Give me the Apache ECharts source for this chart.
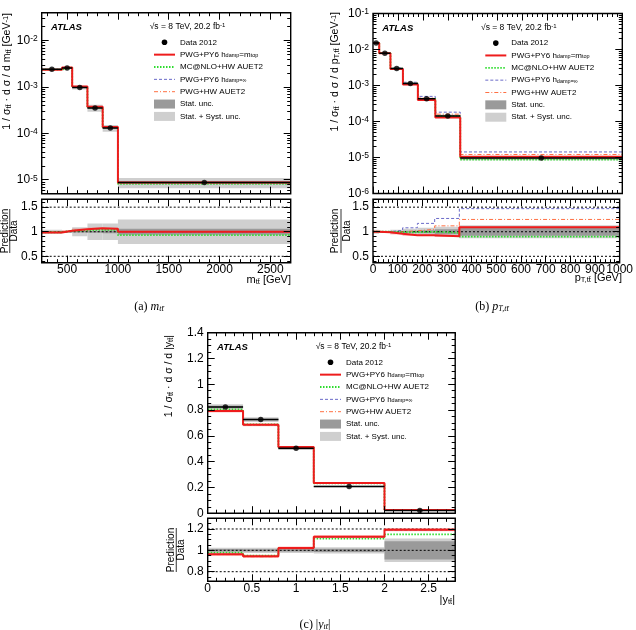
<!DOCTYPE html>
<html><head><meta charset="utf-8">
<script src="https://cdn.jsdelivr.net/npm/echarts@6/dist/echarts.min.js"></script>
<style>html,body{margin:0;padding:0;background:#fff}#c{width:636px;height:630px}</style>
</head><body><div id="c"></div>
<script>
// ---------------- DATA ----------------
// (a) m_tt [GeV]
const mttEdges = [250, 450, 550, 700, 850, 1000, 2700];
const mttData = [2.40e-3, 2.57e-3, 9.7e-4, 3.52e-4, 1.30e-4, 8.75e-6];
const mttStatUnc = [0.01, 0.01, 0.015, 0.02, 0.03, 0.06];
const mttTotUnc = [0.04, 0.02, 0.09, 0.17, 0.17, 0.25];
const mttRatioPwgPy6 = [0.985, 1.02, 1.05, 1.07, 1.06, 1.0];
const mttRatioMcnlo = [0.99, 1.02, 1.03, 1.04, 1.04, 0.93];
const mttRatioHdampInf = [0.985, 1.02, 1.04, 1.06, 1.05, 0.99];
const mttRatioPwgHw = [0.99, 1.02, 1.04, 1.05, 1.05, 1.0];
// (b) pT,tt [GeV]
const pttEdges = [0, 25, 70, 120, 180, 250, 350, 1000];
const pttData = [1.52e-2, 7.9e-3, 2.97e-3, 1.14e-3, 4.26e-4, 1.43e-4, 9.7e-6];
const pttStatUnc = [0.01, 0.01, 0.015, 0.02, 0.03, 0.05, 0.08];
const pttTotUnc = [0.04, 0.02, 0.04, 0.06, 0.08, 0.10, 0.13];
const pttRatioPwgPy6 = [1.0, 0.99, 0.96, 0.93, 0.93, 0.91, 1.09];
const pttRatioMcnlo = [1.0, 1.0, 0.99, 0.99, 1.0, 0.98, 0.90];
const pttRatioHdampInf = [1.0, 1.0, 1.03, 1.08, 1.17, 1.27, 1.47];
const pttRatioPwgHw = [1.0, 1.0, 1.0, 1.02, 1.05, 1.12, 1.25];
// (c) |y_tt|
const yttEdges = [0, 0.4, 0.8, 1.2, 2.0, 2.8];
const yttData = [0.824, 0.726, 0.503, 0.208, 0.021];
const yttStatUnc = [0.012, 0.01, 0.012, 0.015, 0.085];
const yttTotUnc = [0.025, 0.025, 0.025, 0.03, 0.11];
const yttRatioPwgPy6 = [0.963, 0.944, 1.022, 1.128, 1.193];
const yttRatioMcnlo = [0.978, 0.95, 1.02, 1.11, 1.15];
const yttRatioHdampInf = [0.965, 0.945, 1.02, 1.125, 1.19];
const yttRatioPwgHw = [0.96, 0.94, 1.02, 1.125, 1.19];

// tick labels
const mttTicks = [500, 1000, 1500, 2000, 2500];
const pttTicks = [0, 100, 200, 300, 400, 500, 600, 700, 800, 900, 1000];
const yttTicks = [0, 0.5, 1, 1.5, 2, 2.5];
const logTicksA = [1e-5, 1e-4, 1e-3, 1e-2];
const logTicksB = [1e-6, 1e-5, 1e-4, 1e-3, 1e-2, 1e-1];
const yttMainTicks = [0, 0.2, 0.4, 0.6, 0.8, 1, 1.2, 1.4];
const ratioTicksAB = [0.5, 1, 1.5];
const ratioTicksC = [0.8, 1, 1.2];

const legendLabels = ['Data 2012', 'PWG+PY6 h{sub|damp}=m{sub|top}', 'MC@NLO+HW AUET2',
  'PWG+PY6 h{sub|damp=∞}', 'PWG+HW AUET2', 'Stat. unc.', 'Stat. + Syst. unc.'];

// ---------------- STYLE ----------------
const FONT = "'Liberation Sans', Arial, Helvetica, sans-serif";
const SERIF = "'Liberation Serif', 'Times New Roman', serif";
const C = {red:'#ee1c1c', green:'#2ddc2d', blue:'#6a6ac8', orange:'#ff7043',
  dark:'#9a9a9a', light:'#cfcfcf', pink:'rgba(255,90,90,0.35)'};
const predStyles = [
  {color:C.red, width:2, type:'solid'},
  {color:C.green, width:1.8, type:[1.5,1.5]},
  {color:C.blue, width:1, type:[3,2]},
  {color:C.orange, width:1, type:[4,2,1,2]}
];

function range(a, b, step) { const o = []; for (let k = 0; a + k*step <= b + 1e-9; k++) o.push(+((a + k*step).toFixed(6))); return o; }
function minorOf(all, major) { return all.filter(v => !major.some(m => Math.abs(m - v) < 1e-9)); }
function logMinor(lo, hi) { const o = []; for (let e = Math.floor(Math.log10(lo)); e <= Math.ceil(Math.log10(hi)); e++) for (let k = 2; k <= 9; k++) { const v = k * Math.pow(10, e); if (v >= lo && v <= hi) o.push(v); } return o; }

const supRich = {sup:{fontSize:8.5, fontFamily:FONT, color:'#000', verticalAlign:'top', lineHeight:9, padding:[0,0,6,0]}};
function logFmt(v) { const e = Math.round(Math.log10(v)); return '10{sup|' + e + '}'; }
function linFmt(v) { return String(Math.round(v * 1000) / 1000); }

const panels = [
  {edges:mttEdges, data:mttData, stat:mttStatUnc, tot:mttTotUnc,
   ratios:[mttRatioPwgPy6, mttRatioMcnlo, mttRatioHdampInf, mttRatioPwgHw],
   main:{left:41.7, top:12.7, width:249, height:181}, rat:{left:41.7, top:199.3, width:249, height:63.4},
   x:{min:250, max:2700, major:mttTicks, minor:minorOf(range(300, 2700, 100), mttTicks), fmt:linFmt},
   y:{log:true, min:5e-6, max:0.04, major:logTicksA, minor:logMinor(5e-6, 0.04), fmt:logFmt},
   r:{min:0.37, max:1.66, major:ratioTicksAB, minor:minorOf(range(0.4, 1.6, 0.1), ratioTicksAB), fmt:linFmt},
   refLines:[0.5, 1, 1.5]},
  {edges:pttEdges, data:pttData, stat:pttStatUnc, tot:pttTotUnc,
   ratios:[pttRatioPwgPy6, pttRatioMcnlo, pttRatioHdampInf, pttRatioPwgHw],
   main:{left:373, top:13.5, width:249.3, height:180}, rat:{left:373, top:199.3, width:249.3, height:63.4},
   x:{min:0, max:1000, major:pttTicks, minor:minorOf(range(0, 1000, 20), pttTicks), fmt:linFmt},
   y:{log:true, min:1e-6, max:0.1, major:logTicksB, minor:logMinor(1e-6, 0.1), fmt:logFmt},
   r:{min:0.37, max:1.66, major:ratioTicksAB, minor:minorOf(range(0.4, 1.6, 0.1), ratioTicksAB), fmt:linFmt},
   refLines:[0.5, 1, 1.5]},
  {edges:yttEdges, data:yttData, stat:yttStatUnc, tot:yttTotUnc,
   ratios:[yttRatioPwgPy6, yttRatioMcnlo, yttRatioHdampInf, yttRatioPwgHw],
   main:{left:207.7, top:332.7, width:247.5, height:180.5}, rat:{left:207.7, top:518.3, width:247.5, height:63},
   x:{min:0, max:2.8, major:yttTicks, minor:minorOf(range(0, 2.8, 0.1), yttTicks), fmt:linFmt},
   y:{log:false, min:0, max:1.4, major:yttMainTicks, minor:minorOf(range(0, 1.4, 0.05), yttMainTicks), fmt:linFmt},
   r:{min:0.71, max:1.3, major:ratioTicksC, minor:minorOf(range(0.75, 1.3, 0.05), ratioTicksC), fmt:linFmt},
   refLines:[0.8, 1, 1.2]}
];

// ---------------- BUILD ----------------
const grids = [], xAxes = [], yAxes = [], series = [], graphics = [];

function axis(grid, pos, cfg, ticks, len, showLabels, isX) {
  const a = {gridIndex:grid, type:cfg.log ? 'log' : 'value', position:pos, min:cfg.min, max:cfg.max, z:12,
    axisLine:{show:false, onZero:false}, splitLine:{show:false}, minorTick:{show:false}, silent:true,
    axisTick:{show:true, inside:true, length:len, customValues:ticks, lineStyle:{color:'#000', width:1}},
    axisLabel:{show:false}};
  if (cfg.log) a.logBase = 10;
  if (showLabels) a.axisLabel = {show:true, customValues:cfg.major, formatter:cfg.fmt, fontFamily:FONT,
    fontSize:12, color:'#000', margin:isX ? 1 : 4, showMinLabel:true, showMaxLabel:true, rich:supRich};
  return a;
}
function addGrid(rect, xCfg, yCfg, xLabels) {
  const g = grids.length;
  grids.push({left:rect.left, top:rect.top, width:rect.width, height:rect.height, show:true,
    borderColor:'#000', borderWidth:1.4, backgroundColor:'transparent', z:11, containLabel:false});
  const xi = xAxes.length;
  xAxes.push(axis(g, 'bottom', xCfg, xCfg.major, 7, xLabels, true));
  xAxes.push(axis(g, 'bottom', xCfg, xCfg.minor, 3.5, false, true));
  xAxes.push(axis(g, 'top', xCfg, xCfg.major, 7, false, true));
  xAxes.push(axis(g, 'top', xCfg, xCfg.minor, 3.5, false, true));
  const yi = yAxes.length;
  yAxes.push(axis(g, 'left', yCfg, yCfg.major, 7, true, false));
  yAxes.push(axis(g, 'left', yCfg, yCfg.minor, 3.5, false, false));
  yAxes.push(axis(g, 'right', yCfg, yCfg.major, 7, false, false));
  yAxes.push(axis(g, 'right', yCfg, yCfg.minor, 3.5, false, false));
  return [xi, yi];
}
function bandSeries(xi, yi, data, color, z) {
  return {type:'custom', xAxisIndex:xi, yAxisIndex:yi, data, z, clip:true, silent:true, encode:{x:[0,1], y:[2,3]},
    renderItem:(p, api) => { const a = api.coord([api.value(0), api.value(3)]); const b = api.coord([api.value(1), api.value(2)]);
      return {type:'rect', shape:{x:a[0], y:a[1], width:b[0]-a[0], height:b[1]-a[1]}, style:{fill:color}}; }};
}
function hLineSeries(xi, yi, data, stroke, width, dash, z) {
  return {type:'custom', xAxisIndex:xi, yAxisIndex:yi, data, z, clip:true, silent:true, encode:{x:[0,1], y:2},
    renderItem:(p, api) => { const a = api.coord([api.value(0), api.value(2)]); const b = api.coord([api.value(1), api.value(2)]);
      return {type:'line', shape:{x1:a[0], y1:a[1], x2:b[0], y2:b[1]}, style:{stroke, lineWidth:width, lineDash:dash}}; }};
}
function stepSeries(xi, yi, edges, vals, st, z) {
  const d = vals.map((v, i) => [edges[i], v]); d.push([edges[edges.length-1], vals[vals.length-1]]);
  return {type:'line', xAxisIndex:xi, yAxisIndex:yi, data:d, step:'end', symbol:'none', showSymbol:false, z, silent:true,
    lineStyle:{color:st.color, width:st.width, type:st.type}};
}
function bins(edges, vals, f) { return vals.map((v, i) => [edges[i], edges[i+1], ...f(v, i)]); }

panels.forEach(P => {
  const E = P.edges;
  // main
  const [mx, my] = addGrid(P.main, P.x, P.y, false);
  series.push(bandSeries(mx, my, bins(E, P.data, (v, i) => [v*(1-P.tot[i]), v*(1+P.tot[i])]), C.light, 1));
  series.push(bandSeries(mx, my, bins(E, P.data, (v, i) => [v*(1-P.stat[i]), v*(1+P.stat[i])]), C.dark, 1));
  const redMain = P.data.map((v, i) => v * P.ratios[0][i]);
  series.push(bandSeries(mx, my, bins(E, redMain, v => [v*0.985, v*1.015]), C.pink, 2));
  P.ratios.forEach((r, k) => series.push(stepSeries(mx, my, E, P.data.map((v, i) => v * r[i]), predStyles[k], 3 + (3-k)*0.01)));
  series.push(hLineSeries(mx, my, bins(E, P.data, v => [v]), '#000', 1.5, null, 4));
  const ctr = E.slice(0, -1).map((e, i) => (e + E[i+1]) / 2);
  series.push({type:'scatter', xAxisIndex:mx, yAxisIndex:my, z:5, silent:true, symbol:'circle', symbolSize:5.5,
    itemStyle:{color:'#000'}, data:P.data.map((v, i) => [ctr[i], v])});
  // ratio
  const [rx, ry] = addGrid(P.rat, P.x, P.r, true);
  const ones = P.data.map(() => 1);
  series.push(bandSeries(rx, ry, bins(E, ones, (v, i) => [1-P.tot[i], 1+P.tot[i]]), C.light, 1));
  series.push(bandSeries(rx, ry, bins(E, ones, (v, i) => [1-P.stat[i], 1+P.stat[i]]), C.dark, 1));
  series.push(hLineSeries(rx, ry, P.refLines.map(v => [P.x.min, P.x.max, v]), '#000', 1, [2,2], 2));
  series.push(bandSeries(rx, ry, bins(E, P.ratios[0], v => [v-0.015, v+0.015]), C.pink, 2));
  P.ratios.forEach((r, k) => series.push(stepSeries(rx, ry, E, r, predStyles[k], 3 + (3-k)*0.01)));

  // legend block
  const L = P.main.left, T = P.main.top;
  graphics.push({type:'text', x:L+9.3, y:T+14.6, style:{text:'ATLAS', fontFamily:FONT, fontSize:9.5, fontWeight:'bold', fontStyle:'italic', fill:'#000', align:'left', verticalAlign:'middle'}});
  graphics.push({type:'text', x:L+108, y:T+14.3, style:{text:'√s = 8 TeV, 20.2 fb{s|-1}', fontFamily:FONT, fontSize:8.5, fill:'#000', align:'left', verticalAlign:'middle',
    rich:{s:{fontSize:6, fontFamily:FONT, fill:'#000', verticalAlign:'top', lineHeight:6, padding:[0,0,5,0]}}}});
  const sx0 = L + 112.3, sx1 = L + 133.3, tx = L + 138.3;
  legendLabels.forEach((lab, i) => {
    const y = T + 29.6 + i * 12.35;
    if (i === 0) graphics.push({type:'circle', shape:{cx:(sx0+sx1)/2, cy:y, r:2.8}, style:{fill:'#000'}});
    else if (i <= 4) { const s = predStyles[i-1];
      graphics.push({type:'line', shape:{x1:sx0, y1:y, x2:sx1, y2:y}, style:{stroke:s.color, lineWidth:s.width, lineDash:s.type === 'solid' ? null : s.type}}); }
    else graphics.push({type:'rect', shape:{x:sx0, y:y-4.5, width:sx1-sx0, height:9}, style:{fill:i === 5 ? C.dark : C.light}});
    graphics.push({type:'text', x:tx, y:y, style:{text:lab, fontFamily:FONT, fontSize:8, fill:'#000', align:'left', verticalAlign:'middle',
      rich:{sub:{fontSize:5.5, fontFamily:FONT, fill:'#000', verticalAlign:'bottom', lineHeight:6, padding:[5,0,0,0]}}}});
  });
});

// axis titles
const subR = {sub:{fontSize:7.5, fontFamily:FONT, fill:'#000', verticalAlign:'bottom', lineHeight:8, padding:[5,0,0,0]},
              sup:{fontSize:7.5, fontFamily:FONT, fill:'#000', verticalAlign:'top', lineHeight:8, padding:[0,0,5,0]}};
function ytitle(x, y, text) { graphics.push({type:'text', x, y, rotation:Math.PI/2, style:{text, rich:subR, fontFamily:FONT, fontSize:10.5, fill:'#000', align:'right', verticalAlign:'middle'}}); }
function xtitle(x, y, text) { graphics.push({type:'text', x, y, style:{text, rich:subR, fontFamily:FONT, fontSize:11, fill:'#000', align:'right', verticalAlign:'middle'}}); }
ytitle(7, 13, '1 / σ{sub|tt̄} · d σ / d m{sub|tt̄} [GeV{sup|-1}]');
ytitle(335, 12, '1 / σ{sub|tt̄} · d σ / d p{sub|T,tt̄} [GeV{sup|-1}]');
ytitle(169, 335, '1 / σ{sub|tt̄} · d σ / d |y{sub|tt̄}|');
xtitle(291, 280, 'm{sub|tt̄} [GeV]');
xtitle(622, 278, 'p{sub|T,tt̄} [GeV]');
xtitle(455, 600, '|y{sub|tt̄}|');
function ratioTitle(x1, x2, yc) {
  graphics.push({type:'text', x:x1, y:yc, rotation:Math.PI/2, style:{text:'Prediction', fontFamily:FONT, fontSize:10, fill:'#000', align:'center', verticalAlign:'middle'}});
  graphics.push({type:'line', shape:{x1:(x1+x2)/2, y1:yc-22, x2:(x1+x2)/2, y2:yc+22}, style:{stroke:'#000', lineWidth:0.8}});
  graphics.push({type:'text', x:x2, y:yc, rotation:Math.PI/2, style:{text:'Data', fontFamily:FONT, fontSize:10, fill:'#000', align:'center', verticalAlign:'middle'}});
}
ratioTitle(5, 14.5, 231);
ratioTitle(335, 347, 231);
ratioTitle(171, 181.5, 550);
// captions
const capR = {it:{fontFamily:SERIF, fontStyle:'italic', fontSize:12, fill:'#000'},
              sub:{fontFamily:SERIF, fontStyle:'italic', fontSize:8, fill:'#000', verticalAlign:'bottom', lineHeight:8, padding:[5,0,0,0]}};
function caption(x, y, text) { graphics.push({type:'text', x, y, style:{text, rich:capR, fontFamily:SERIF, fontSize:12, fill:'#000', align:'center', verticalAlign:'middle'}}); }
caption(149, 307, '(a) {it|m}{sub|tt̄}');
caption(492, 307, '(b) {it|p}{sub|T,tt̄}');
caption(315, 625, '(c) |{it|y}{sub|tt̄}|');

const chart = echarts.init(document.getElementById('c'), null, {renderer:'canvas'});
chart.setOption({animation:false, backgroundColor:'#fff', grid:grids, xAxis:xAxes, yAxis:yAxes, series, graphic:graphics});
</script></body></html>
